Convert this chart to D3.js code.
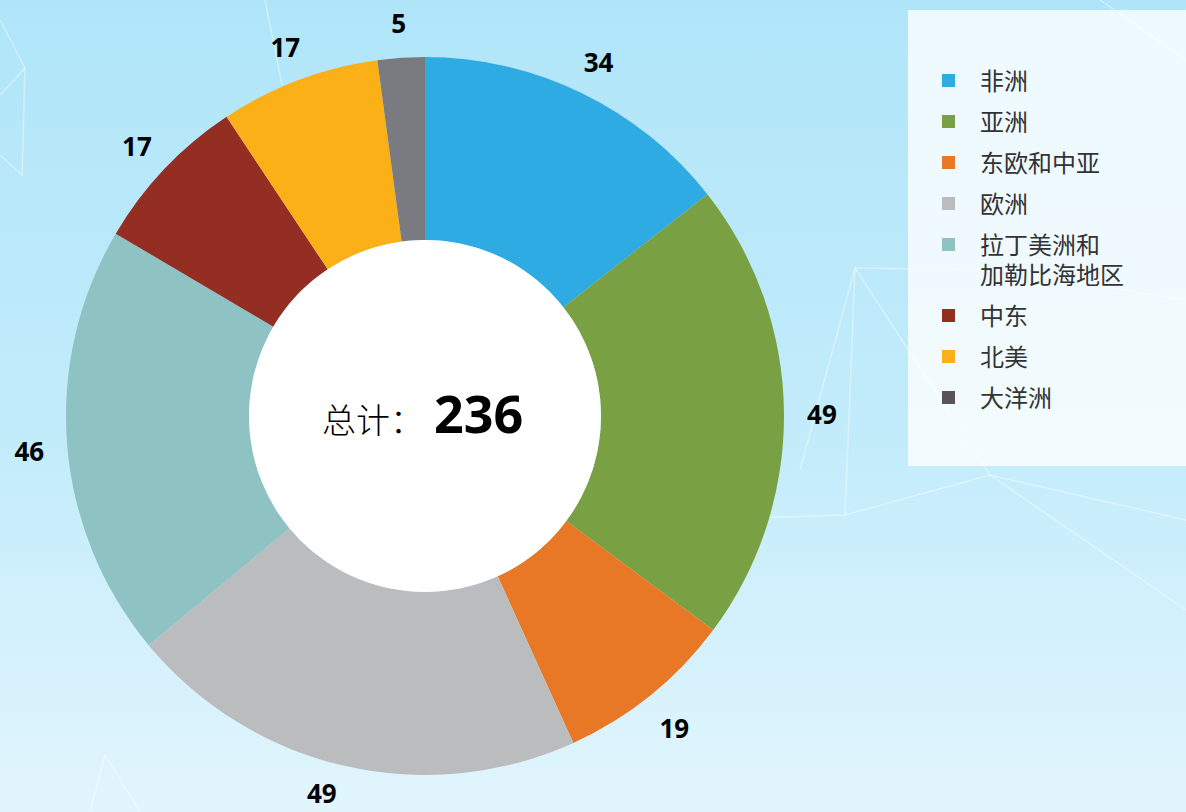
<!DOCTYPE html>
<html>
<head>
<meta charset="utf-8">
<script src="https://cdn.jsdelivr.net/npm/d3@7"></script>
<style>
  html, body { margin: 0; padding: 0; overflow: hidden; }
  svg { display: block; }
</style>
</head>
<body>
<svg id="drawing_region"></svg>
<script>
// data
const regions = ['非洲', '亚洲', '东欧和中亚', '欧洲', '拉丁美洲和\n加勒比海地区', '中东', '北美', '大洋洲'];
const counts = [34, 49, 19, 49, 46, 17, 17, 5];
const sliceColors = ['#2fabe3', '#79a143', '#e87825', '#bbbcbe', '#8fc2c2', '#942e23', '#fbb018', '#7a7b80'];
const legendColors = ['#2fabe3', '#79a143', '#e87825', '#bbbcbe', '#8fc2c2', '#942e23', '#fbb018', '#5a5459'];
const totalLabel = '总计：';

const W = 1186, H = 812;
const cx = 425, cy = 416;
const outerR = 359, innerR = 176, labelR = 397;
const labelMaxY = 374; // keep the lowest label inside the picture

const svg = d3.select('#drawing_region')
    .attr('width', W)
    .attr('height', H);

// background
const defs = svg.append('defs');
const grad = defs.append('linearGradient')
    .attr('id', 'bg')
    .attr('x1', 0).attr('y1', 0).attr('x2', 0).attr('y2', 1);
grad.append('stop').attr('offset', '0%').attr('stop-color', '#b0e5f9');
grad.append('stop').attr('offset', '55%').attr('stop-color', '#c3ecfb');
grad.append('stop').attr('offset', '100%').attr('stop-color', '#e2f5fd');
svg.append('rect').attr('width', W).attr('height', H).attr('fill', 'url(#bg)');

// faint network lines in the background
const net = [
    [[0, 20], [25, 68], [22, 175], [0, 155]],
    [[0, 95], [25, 68]],
    [[265, 0], [282, 85]],
    [[855, 268], [1000, 270], [1186, 300]],
    [[855, 268], [845, 515], [990, 475], [1186, 520]],
    [[855, 268], [990, 475], [1186, 610]],
    [[800, 470], [855, 268]],
    [[700, 520], [845, 515]],
    [[90, 812], [105, 755], [140, 812]],
    [[1100, 0], [1186, 60]]
];
svg.append('g')
    .selectAll('path')
    .data(net)
    .join('path')
    .attr('d', d3.line())
    .attr('fill', 'none')
    .attr('stroke', '#ffffff')
    .attr('stroke-opacity', 0.4)
    .attr('stroke-width', 1.5);

// legend box
const legend = svg.append('g');
legend.append('rect')
    .attr('x', 908).attr('y', 10)
    .attr('width', 278).attr('height', 456)
    .attr('fill', '#ffffff')
    .attr('fill-opacity', 0.78);

let ly = 81;
regions.forEach((name, i) => {
    const lines = name.split('\n');
    legend.append('rect')
        .attr('x', 942).attr('y', ly - 7)
        .attr('width', 13).attr('height', 13)
        .attr('fill', legendColors[i]);
    const t = legend.append('text')
        .attr('x', 980)
        .attr('y', ly)
        .attr('dy', '0.36em')
        .attr('font-family', '"Noto Sans CJK SC", sans-serif')
        .attr('font-size', 24)
        .attr('fill', '#333');
    lines.forEach((s, j) => {
        t.append('tspan')
            .attr('x', 980)
            .attr('dy', j === 0 ? null : 30)
            .text(s);
    });
    ly += 41 + (lines.length - 1) * 30;
});

// donut
const chart = svg.append('g')
    .attr('transform', `translate(${cx}, ${cy})`);

const pie = d3.pie().sort(null).value(d => d);
const arc = d3.arc().innerRadius(innerR).outerRadius(outerR);

const slices = pie(counts);

chart.selectAll('.slice')
    .data(slices)
    .join('path')
    .attr('class', 'slice')
    .attr('d', arc)
    .attr('fill', (d, i) => sliceColors[i]);

chart.append('circle')
    .attr('r', innerR)
    .attr('fill', '#ffffff');

// label position: outside the ring; a label that would fall too low is lifted and nudged sideways
function labelPos(d) {
    const a = (d.startAngle + d.endAngle) / 2;
    let x = Math.sin(a) * labelR;
    let y = -Math.cos(a) * labelR;
    if (y > labelMaxY) {
        const over = y - labelMaxY;
        x += (x < 0 ? -1 : 1) * over * 1.1;
        y = labelMaxY;
    }
    return [x, y];
}

chart.selectAll('.lbl')
    .data(slices)
    .join('text')
    .attr('class', 'lbl')
    .attr('transform', d => `translate(${labelPos(d)})`)
    .attr('dy', '0.5em')
    .attr('text-anchor', 'middle')
    .attr('font-family', '"Noto Sans", sans-serif')
    .attr('font-weight', 'bold')
    .attr('font-size', 26)
    .attr('fill', '#000')
    .text(d => d.data);

// total in the middle
const total = d3.sum(counts);
const center = chart.append('text')
    .attr('x', -103)
    .attr('y', 17)
    .attr('fill', '#000');
center.append('tspan')
    .attr('font-family', '"Noto Sans CJK SC", sans-serif')
    .attr('font-weight', 300)
    .attr('font-size', 34)
    .text(totalLabel);
center.append('tspan')
    .attr('dx', 10)
    .attr('font-family', '"Noto Sans", sans-serif')
    .attr('font-weight', 'bold')
    .attr('font-size', 52)
    .text(total);
</script>
</body>
</html>
